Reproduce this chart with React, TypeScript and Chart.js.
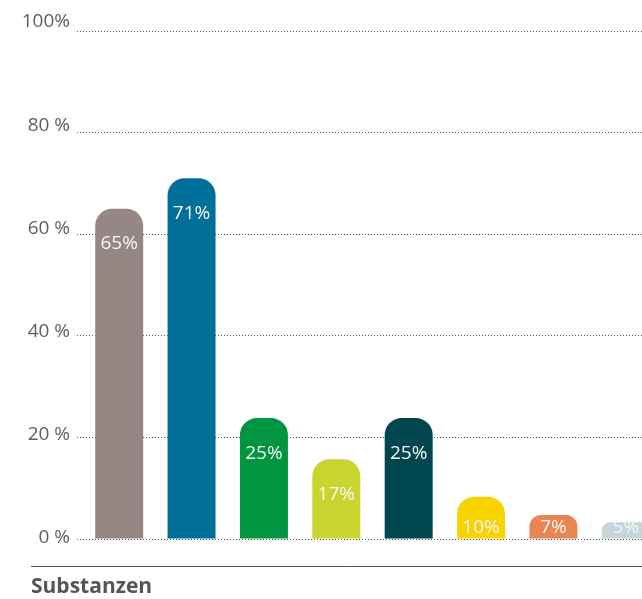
import React, { useEffect, useRef } from "react";
import { Chart, registerables } from "chart.js";

Chart.register(...registerables);

const categories = ["1", "2", "3", "4", "5", "6", "7", "8"];
const barHeights = [65, 71, 23.8, 15.7, 23.8, 8.3, 4.7, 3.3];
const labelValues = [65, 71, 25, 17, 25, 10, 7, 5];
const barColors = [
  "#948784",
  "#00709b",
  "#00963f",
  "#c9d42f",
  "#00464f",
  "#f9d300",
  "#e88552",
  "#c4d6da",
];
const yTickValues = [0, 20, 40, 60, 80, 100];
const yTickLabels = ["0 %", "20 %", "40 %", "60 %", "80 %", "100%"];
const axisTitle = "Substanzen";

const FONT = "'Open Sans', 'Noto Sans', sans-serif";

const barLabelPlugin = {
  id: "barLabels",
  afterDatasetsDraw(chart: any) {
    const ctx = chart.ctx;
    const meta = chart.getDatasetMeta(0);
    ctx.save();
    ctx.font = `19px ${FONT}`;
    ctx.fillStyle = "#f7f7f7";
    ctx.textAlign = "center";
    ctx.textBaseline = "middle";
    meta.data.forEach((el: any, i: number) => {
      const y = Math.min(el.y + 35, el.base - 11);
      ctx.fillText(labelValues[i] + "%", el.x, y);
    });
    ctx.restore();
  },
};

const yLabelPlugin = {
  id: "yLabels",
  afterDraw(chart: any) {
    const ctx = chart.ctx;
    const scale = chart.scales.y;
    ctx.save();
    ctx.font = `19px ${FONT}`;
    ctx.fillStyle = "#5e5e5e";
    ctx.textAlign = "right";
    ctx.textBaseline = "middle";
    yTickValues.forEach((v, i) => {
      const y = scale.getPixelForValue(v) - 1 - v * 0.08;
      ctx.fillText(yTickLabels[i], scale.right - 13, y);
    });
    ctx.restore();
  },
};

const footerPlugin = {
  id: "footer",
  afterDraw(chart: any) {
    const ctx = chart.ctx;
    ctx.save();
    ctx.strokeStyle = "#555555";
    ctx.lineWidth = 1;
    ctx.beginPath();
    ctx.moveTo(31, 566.5);
    ctx.lineTo(chart.width, 566.5);
    ctx.stroke();
    ctx.font = `bold 21px ${FONT}`;
    ctx.fillStyle = "#555555";
    ctx.textAlign = "left";
    ctx.textBaseline = "alphabetic";
    ctx.fillText(axisTitle, 31, 593);
    ctx.restore();
  },
};

export default function App() {
  const ref = useRef<HTMLCanvasElement | null>(null);

  useEffect(() => {
    if (!ref.current) return;
    const chart = new Chart(ref.current, {
      type: "bar",
      data: {
        labels: categories,
        datasets: [
          {
            data: barHeights,
            backgroundColor: barColors,
            borderWidth: 0,
            borderRadius: { topLeft: 17, topRight: 17, bottomLeft: 0, bottomRight: 0 },
            borderSkipped: "bottom",
            categoryPercentage: 1,
            barPercentage: 0.663,
          },
        ],
      },
      options: {
        responsive: false,
        animation: false,
        layout: { padding: { top: 31, bottom: 60, left: 0, right: 0 } },
        plugins: {
          legend: { display: false },
          tooltip: { enabled: false },
          title: { display: false },
        },
        scales: {
          x: { display: false },
          y: {
            min: 0,
            max: 100,
            afterFit: (scale: any) => {
              scale.width = 83;
            },
            afterBuildTicks: (scale: any) => {
              scale.ticks = yTickValues.map((v) => ({ value: v }));
            },
            ticks: { display: false },
            grid: {
              color: "#555555",
              lineWidth: 1,
              drawTicks: true,
              tickLength: 6,
              tickBorderDash: [1, 2],
            },
            border: { display: false, dash: [1, 2] },
          },
        },
      },
      plugins: [barLabelPlugin, yLabelPlugin, footerPlugin],
    });
    return () => chart.destroy();
  }, []);

  return (
    <div
      style={{
        position: "fixed",
        left: 0,
        top: 0,
        width: 642,
        height: 599,
        overflow: "hidden",
        background: "#ffffff",
      }}
    >
      <canvas ref={ref} width={662} height={599} style={{ display: "block" }} />
    </div>
  );
}
